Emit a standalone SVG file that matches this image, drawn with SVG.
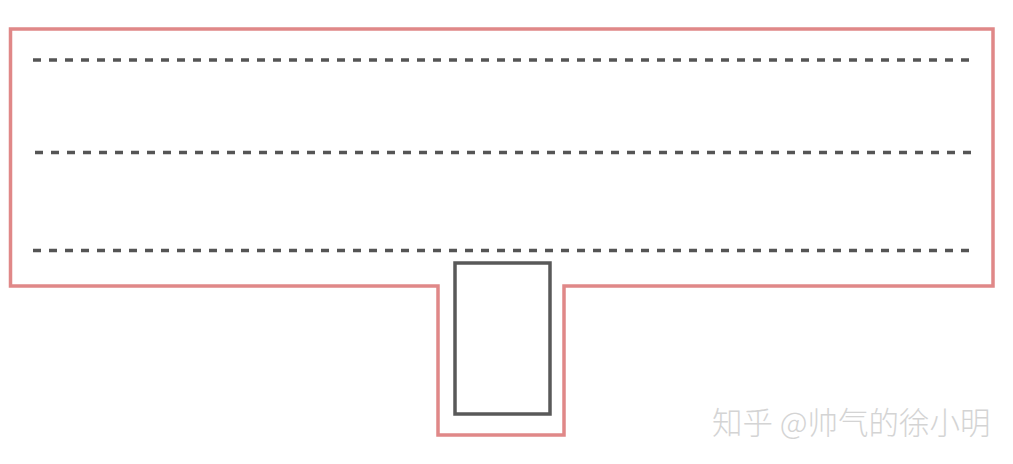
<svg xmlns="http://www.w3.org/2000/svg" width="1013" height="464" viewBox="0 0 1013 464">
<style>
.outline{fill:none;stroke:#e08888;stroke-width:3.5}
.dash{fill:none;stroke:#555;stroke-width:3.5;stroke-dasharray:8 8}
.box{fill:none;stroke:#595959;stroke-width:3.5}
.wm{font-family:"Noto Sans CJK SC","Noto Sans",sans-serif;font-size:30.5px;font-weight:300;fill:#d4d4d4}
</style>
<rect width="1013" height="464" fill="#fff"/>
<g id="outline">
<path class="outline" d="M10.5 29 H993 V286 H564 V435 H438 V286 H10.5 Z"/>
</g>
<g id="lines">
<line class="dash" x1="33" y1="60" x2="970" y2="60"/>
<line class="dash" x1="35" y1="152.5" x2="972" y2="152.5"/>
<line class="dash" x1="33" y1="250.5" x2="970" y2="250.5"/>
</g>
<g id="box">
<rect class="box" x="455" y="263" width="95" height="151"/>
</g>
<text class="wm" x="712" y="434">知乎 @帅气的徐小明</text>
</svg>
